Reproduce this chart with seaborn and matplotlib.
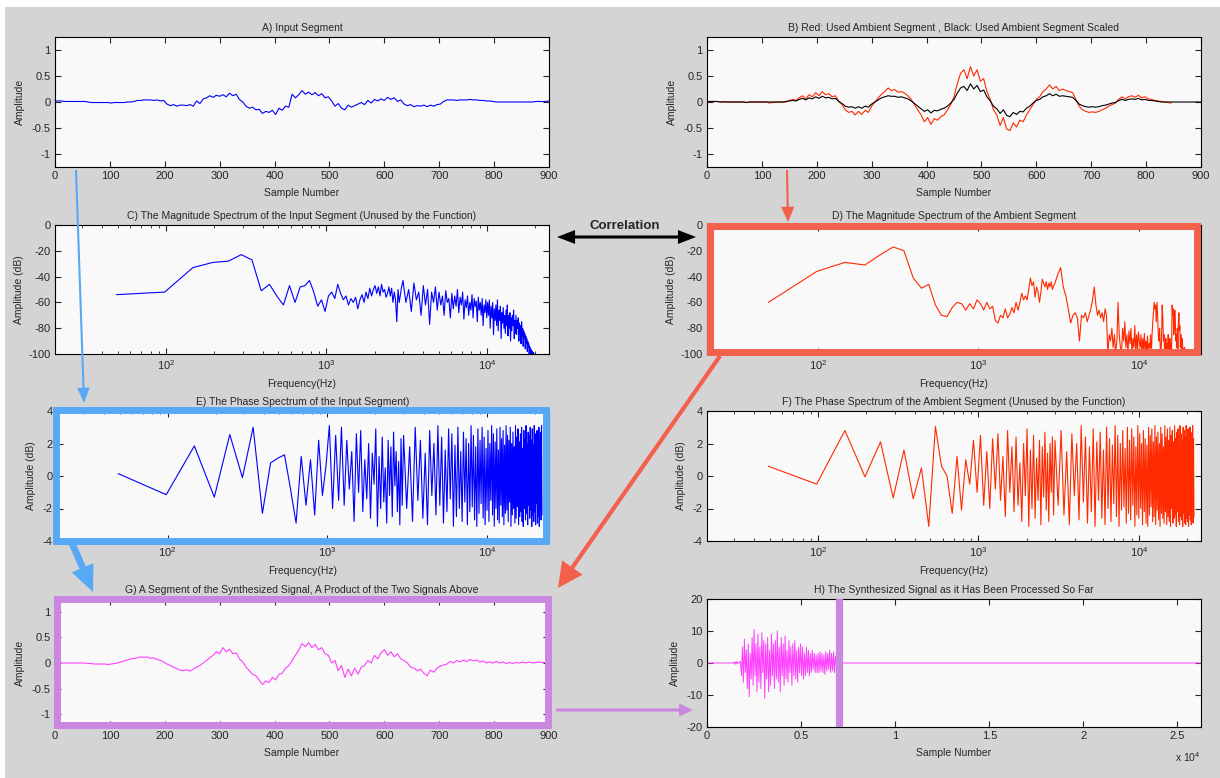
import numpy as np
import matplotlib
matplotlib.use("Agg")
import matplotlib.pyplot as plt
import seaborn as sns
from matplotlib.patches import Rectangle, FancyArrowPatch
from matplotlib.ticker import FuncFormatter, FixedLocator

# ---------------- data ----------------
FS = 44100
SEG_LEN = 900

# A) input segment (every ~6 samples, 0..900)
input_seg = [0.02,0.02,0.02,0.01,0.01,0.01,0.01,0.01,0.01,0.01,0.00,-0.01,-0.01,-0.01,-0.01,-0.01,-0.01,-0.02,-0.01,-0.01,-0.01,-0.01,0.00,0.00,
             0.01,0.03,0.03,0.04,0.04,0.04,0.03,0.04,0.02,0.03,
             -0.04,-0.07,-0.05,-0.08,-0.06,-0.06,-0.07,-0.05,-0.08,
             0.02,-0.03,0.06,0.08,0.12,0.09,0.13,0.11,0.14,0.10,0.17,0.12,0.15,
             0.05,0.00,-0.08,-0.12,-0.10,-0.15,-0.14,-0.22,-0.18,-0.20,-0.16,-0.24,
             -0.12,-0.16,-0.08,-0.10,0.15,0.08,
             0.14,0.22,0.15,0.19,0.14,0.18,0.12,0.16,0.08,0.10,
             0.02,-0.08,-0.03,-0.12,-0.15,-0.06,-0.10,
             -0.07,-0.04,-0.01,-0.05,0.03,-0.02,0.05,0.02,0.06,0.03,0.09,0.05,0.08,0.01,0.04,
             -0.04,-0.07,-0.05,-0.09,-0.07,-0.08,-0.06,-0.09,-0.06,-0.08,-0.05,-0.04,
             0.01,0.04,0.04,0.04,0.03,0.04,0.04,0.04,0.05,0.04,0.04,0.03,0.03,
             0.02,0.02,0.01,0.00,0.00,0.00,0.00,0.00,0.00,0.00,0.00,0.00,0.00,0.00,0.00,0.01,0.01,0.01,0.01,0.02]

# B) ambient segment (red, 0..846) and scaled version (black, 0..900)
ambient_seg = [0.01,0.01,0.01,0.01,0.00,0.01,0.00,0.00,0.00,0.00,0.00,0.00,-0.01,0.00,0.00,0.00,0.00,0.00,0.00,-0.02,-0.01,0.00,0.00,0.00,0.00,
               0.03,0.05,0.03,0.08,0.12,0.06,0.14,0.10,0.18,0.12,0.20,0.14,0.16,0.10,0.12,
               0.02,-0.05,-0.15,-0.20,-0.18,-0.25,-0.18,-0.24,-0.16,-0.20,-0.08,
               0.00,0.08,0.15,0.20,0.27,0.22,0.24,0.19,0.20,0.17,0.12,
               0.05,-0.05,-0.15,-0.25,-0.38,-0.30,-0.43,-0.32,-0.35,-0.28,
               -0.25,-0.15,-0.05,0.10,0.35,0.55,
               0.62,0.45,0.68,0.50,0.62,0.40,0.45,0.20,
               0.05,-0.15,-0.25,-0.45,-0.30,-0.52,-0.55,-0.40,-0.48,-0.35,-0.38,
               -0.25,-0.15,-0.05,0.05,0.10,0.20,0.25,
               0.33,0.25,0.30,0.22,0.25,0.22,0.20,0.18,
               0.05,-0.08,-0.15,-0.18,-0.20,-0.19,-0.20,-0.18,-0.15,
               -0.12,-0.08,-0.05,-0.02,0.05,0.10,
               0.06,0.10,0.12,0.09,0.13,0.08,0.10,0.06,0.05,
               0.03,0.02,0.01,0.00,-0.01,-0.02]
ambient_scaled = [0.00,0.01,0.01,0.01,0.00,0.00,0.00,0.00,0.00,0.00,0.00,0.00,-0.01,0.00,0.00,0.00,0.00,0.00,0.00,0.00,0.00,0.00,0.00,0.00,0.01,
                  0.02,0.03,0.02,0.05,0.07,0.04,0.08,0.06,0.10,0.07,0.11,0.08,0.09,0.06,0.07,
                  0.01,-0.03,-0.08,-0.10,-0.09,-0.12,-0.09,-0.12,-0.08,-0.10,-0.04,
                  0.00,0.04,0.08,0.10,0.12,0.11,0.11,0.09,0.10,0.08,0.06,
                  0.02,-0.03,-0.08,-0.13,-0.18,-0.15,-0.21,-0.16,-0.17,-0.14,
                  -0.12,-0.08,-0.02,0.05,0.17,0.27,
                  0.30,0.22,0.35,0.25,0.32,0.20,0.23,0.10,
                  0.02,-0.08,-0.13,-0.22,-0.15,-0.26,-0.28,-0.20,-0.24,-0.18,-0.19,
                  -0.12,-0.08,-0.02,0.03,0.05,0.10,0.12,
                  0.16,0.12,0.15,0.11,0.12,0.11,0.10,0.09,
                  0.03,-0.04,-0.07,-0.09,-0.10,-0.09,-0.10,-0.09,-0.07,
                  -0.06,-0.04,-0.02,-0.01,0.03,0.05,
                  0.03,0.05,0.06,0.05,0.07,0.04,0.05,0.03,0.03,
                  0.02,0.01,0.00,0.00,0.00,0.00,
                  0.00,0.00,0.00,0.00,0.00,0.00,0.00,0.00,0.00]

# C) magnitude spectrum of input (dB): first 60 FFT bins, then the dense 3-22 kHz part
mag_input_low = [-54,-52,-33,-29,-28,-23,-27,-51,-46,-55,-62,-47,-60,-48,-47,-43,-52,-63,-58,-67,
                 -55,-52,-57,-46,-53,-58,-55,-62,-57,-60,-56,-65,-58,-54,-60,-52,-57,-49,-55,-50,
                 -47,-53,-48,-55,-46,-52,-50,-56,-53,-48,-55,-49,-60,-52,-58,-75,-50,-60,-54,-48]
mag_input_high = [-43,-60,-50,-67,-45,-58,-52,-70,-47,-62,-50,-77,-52,-60,-48,-66,
                  -52,-62,-55,-70,-51,-60,-57,-72,-53,-65,-55,-63,-50,-68,-56,-62,-52,-73,-58,-64,-55,-70,-60,-66,
                  -54,-72,-57,-63,-59,-75,-56,-66,-60,-70,-57,-78,-62,-68,-58,-72,
                  -60,-70,-58,-80,-63,-72,-60,-85,-65,-74,-62,-78,-58,-82,-66,-74,-63,-88,-68,-76,
                  -64,-80,-70,-84,-66,-78,-62,-86,-70,-80,-68,-90,-72,-82,-70,-78,-66,-88,-74,-84,
                  -70,-85,-74,-80,-72,-90,-76,-84,-78,-92,-75,-86,-80,-94,-82,-88,-84,-96,-86,-92,
                  -88,-98,-90,-95,-92,-100,-94,-99,-96,-100,-97,-100,-98,-101,-99,-102,-100,-104,-100,-105,
                  -101,-106,-102,-108,-103,-110,-104,-110,-105,-112,-106,-112,-108,-115,-110]

# D) magnitude spectrum of ambient (dB)
mag_amb_low = [-60,-36,-29,-31,-23,-17,-20,-41,-49,-46,-62,-70,-71,-64,-60,-61,-66,-61,-65,-58,
               -61,-66,-60,-65,-63,-74,-76,-70,-72,-65,-72,-69,-64,-68,-60,-66,-60,-53,-58,-55,
               -58,-50,-41,-47,-44,-56,-48,-52,-60,-52,-42,-45,-48,-44,-50,-45,-48,-44,-50,-47]
mag_amb_high = [-45,-38,-33,-48,-55,-65,-76,-70,
                -68,-72,-90,-70,-72,-68,-75,-70,
                -65,-58,-48,-62,-70,-66,-72,-68,
                -75,-65,-70,-100,-85,-90,-80,-95,
                -85,-100,-90,-60,-85,-95,-100,-80,
                -90,-75,-95,-85,-100,-82,-92,-80,
                -100,-88,-95,-78,-100,-85,-97,-83,
                -90,-95,-85,-100,-88,-96,-84,-100,
                -90,-98,-86,-100,-92,-95,-85,-100,
                -85,-75,-68,-60,-65,-62,-75,-60,
                -70,-85,-90,-80,-95,-100,-88,-62,
                -72,-90,-85,-100,-95,-88,-100,-92,
                -98,-85,-100,-95,-88,-100,-92,-97,
                -62,-70,-65,-85,-80,-66,-75,-90,
                -85,-95,-80,-100,-75,-68,-82,-78,
                -95,-85,-90,-100,-88,-95,-100,-96,
                -100,-95,-105,-98,-100,-110,-102,-108,
                -110,-105,-112,-108,-115,-110,-118,-112,-115,-120,-114,-118,-120,-116,-120,-120]

# E) phase spectrum of input
phase_input_low = [0.15,-1.15,1.85,-1.3,2.55,-0.1,3.0,-2.3,0.8,1.1,1.3,-0.8,-2.9,1.2,-1.8,1.0,-2.4,2.2,-1.2,0.6,
                   3.1,-2.0,2.5,-1.5,3.0,-1.8,2.2,-0.8,1.5,-2.8,2.6,-1.0,2.8,-2.2,1.0,-1.4,2.0,-2.6,1.4,-0.5,
                   2.9,-3.1,1.2,-2.0,2.4,-1.6,0.5,-2.9,2.2,-1.2,1.8,-2.5,2.7,-0.6,1.5,-2.2,0.9,-3.0,2.3,-1.8]
phase_input_high = [2.5,-2.0,1.8,-2.8,3.0,-1.5,2.2,-2.6,1.4,-3.0,2.8,-1.2,2.0,-2.4,3.1,-1.8,2.4,-2.9,1.6,-2.2,
                    2.9,-1.4,2.6,-3.1,1.9,-2.5,3.0,-2.0,1.5,-2.8,2.7,-1.6,2.3,-3.0,2.0,-2.2,3.1,-1.9,2.5,-2.7,
                    1.8,-3.1,2.9,-2.3,2.2,-1.7,3.0,-2.6,2.4,-3.0,1.7,-2.1,2.8,-2.8,2.0,-1.5,3.1,-2.4,2.6,-3.1,
                    2.1,-2.0,2.9,-2.7,1.6,-2.9,3.0,-1.8,2.3,-2.5,2.8,-3.0,1.9,-2.3,3.1,-2.1,2.5,-2.8,2.2,-1.6,
                    3.0,-3.1,2.0,-2.4,2.7,-2.0,1.8,-2.9,3.1,-2.6,2.4,-1.9,2.9,-3.0,2.1,-2.5,2.6,-2.2,3.0,-2.8,
                    1.7,-3.1,2.8,-2.0,2.3,-2.7,3.1,-2.3,2.0,-3.0,2.7,-1.8,2.5,-2.6,3.0,-2.1,2.2,-3.1,2.9,-2.4,
                    1.9,-2.8,3.1,-2.2,2.6,-3.0,2.4,-1.7,2.8,-2.9,2.1,-2.5,3.0,-3.1,2.3,-2.0,2.7,-2.7,3.1,-2.4]

# F) phase spectrum of ambient
phase_amb_low = [0.6,-0.5,2.8,-0.05,2.1,-1.35,1.6,-1.4,0.5,-3.1,3.05,0.6,0.0,-2.3,1.2,-2.1,1.0,-0.5,2.2,-1.0,
                 2.5,-1.8,1.5,-2.0,2.3,-0.8,2.6,-1.5,1.2,-2.5,2.8,-1.0,1.8,-2.2,2.4,-1.8,0.8,-2.8,2.0,-1.2,
                 2.9,-3.1,1.6,-2.0,2.5,-2.6,1.1,-1.5,2.2,-3.0,1.8,-1.3,2.7,-2.1,1.4,-2.8,2.0,-1.0,2.4,-2.4]
phase_amb_high = [2.2,-1.8,2.8,-2.4,1.5,-3.0,2.6,-1.2,2.0,-2.7,3.1,-1.6,2.4,-2.9,1.8,-2.2,2.9,-3.1,2.1,-1.5,
                  2.7,-2.6,1.6,-3.0,3.0,-2.0,2.3,-2.8,1.9,-1.7,3.1,-2.5,2.5,-3.1,2.0,-2.1,2.8,-1.9,1.7,-2.9,
                  3.0,-2.3,2.2,-2.7,2.9,-1.8,2.4,-3.1,1.8,-2.4,3.1,-2.6,2.6,-2.0,2.0,-3.0,2.8,-2.2,2.3,-2.9,
                  1.9,-3.1,3.0,-2.4,2.5,-1.9,2.9,-2.8,2.1,-2.5,3.1,-3.0,2.4,-2.1,2.7,-2.7,2.0,-3.1,3.0,-2.3,
                  2.6,-2.6,1.8,-2.9,3.1,-2.2,2.4,-3.0,2.9,-2.5,2.2,-2.8,3.0,-3.1,2.5,-2.0,2.8,-2.9,2.1,-2.6,
                  3.1,-2.4,2.3,-3.1,2.7,-2.2,2.9,-2.8,2.0,-3.0,3.1,-2.5,2.6,-2.7,2.2,-3.1,3.0,-2.3,2.8,-2.9,
                  2.4,-3.0,3.1,-2.6,2.5,-2.8,2.9,-3.1,2.2,-2.4,3.0,-2.7,2.7,-3.0,2.6,-2.2,3.1,-2.9,2.3,-2.5]

# G) synthesized segment
synth_seg = [0,0,0,0,0,0,0,0,0,0,-0.01,-0.01,-0.02,-0.02,-0.02,-0.02,-0.03,
             -0.02,-0.01,0.0,0.02,0.04,0.06,0.08,0.09,0.10,0.12,0.11,0.12,0.09,0.10,
             0.07,0.05,0.02,-0.02,-0.05,-0.08,-0.11,-0.14,-0.15,-0.13,-0.16,
             -0.12,-0.08,-0.05,0.0,0.05,0.10,0.15,0.22,0.18,0.30,
             0.22,0.27,0.18,0.20,0.08,
             0.02,-0.08,-0.15,-0.22,-0.25,-0.33,-0.42,
             -0.35,-0.38,-0.28,-0.33,-0.22,-0.20,
             -0.10,-0.05,0.05,0.15,0.25,0.38,
             0.32,0.40,0.30,0.36,0.26,0.30,
             0.18,0.15,0.0,0.05,-0.15,-0.05,
             -0.28,-0.12,-0.25,-0.10,-0.22,-0.08,
             -0.05,0.05,0.0,0.15,0.08,0.20,0.26,
             0.15,0.22,0.12,0.18,0.08,0.05,
             0.0,-0.08,-0.10,-0.15,-0.12,-0.20,-0.25,-0.14,-0.18,
             -0.10,-0.06,-0.04,-0.02,0.03,0.0,
             0.05,0.02,0.06,0.03,0.07,0.04,0.06,0.02,0.04,0.0,0.02,0.0,0.03,0.0,0.02,-0.01,0.01,-0.01,0.01,0.0,
             0.02,0.0,0.02,0.0,0.01,0.02,0.01,0.01,0.0]

# H) synthesized signal so far
proc_pre_t = [0, 1400, 1450, 1500, 1550, 1600, 1650, 1700]
proc_pre_v = [0, 0, 0.3, -0.4, 0.5, -0.3, 0.2, 0]
proc_burst = [0.5,-4.0,5.0,-6.0,7.5,-3.0,4.0,-8.0,6.0,-10.5,3.0,-5.0,8.0,-7.0,10.5,-4.0,6.0,-9.0,9.0,-6.0,
              5.0,-8.0,9.5,-3.0,7.0,-11.0,6.0,-5.0,8.0,-9.0,4.0,-7.0,9.0,-4.0,6.0,-8.0,7.0,-5.0,10.0,-6.0,
              5.0,-9.0,8.0,-4.0,6.0,-7.0,8.5,-5.0,4.0,-6.0,7.0,-3.0,5.0,-7.0,6.0,-4.0,7.0,-5.0,4.0,-6.0,
              5.0,-3.0,6.0,-4.0,5.0,-5.0,3.0,-4.0,5.0,-3.0,4.0,-4.0,3.0,-3.0,4.0,-2.0,3.0,-3.0,2.5,-3.0,
              3.0,-3.0,3.5,-2.5,3.0,-3.0,2.5,-3.5,3.5,-2.5,3.0,-2.0,4.0,-3.0,3.0,-2.5,3.5,-3.0,2.0,-1.0]
proc_burst_span = [1780, 6880]
proc_post_t = [6950, 26250]
proc_post_v = [0, 0]
proc_cursor = 6990

# ---------------- figure ----------------
sns.set_style("ticks")
plt.rcParams['font.family'] = ['Liberation Sans', 'DejaVu Sans']
plt.rcParams['axes.unicode_minus'] = False
plt.rcParams['mathtext.fontset'] = 'custom'
plt.rcParams['mathtext.rm'] = 'Liberation Sans'

W, H = 1220, 778
fig = plt.figure(figsize=(12.2, 7.78), dpi=100, facecolor='white')

def fx(px):
    return px / W

def fy(py):
    return 1 - py / H

fig.add_artist(Rectangle((fx(5), 0), 1 - fx(5), fy(7), transform=fig.transFigure,
                         facecolor='#d4d4d4', edgecolor='none', zorder=-10))

BLUE = '#0000ff'
RED = '#ff2a00'
MAG = '#ff40ff'
C_BLUE = '#57a9f6'
C_RED = '#f3604c'
C_PUR = '#c987e0'

def add_ax(l, t, r, b):
    ax = fig.add_axes([fx(l), fy(b), (r - l) / W, (b - t) / H])
    ax.set_facecolor('#f9f9f9')
    return ax

def style(ax, title, xlabel, ylabel, ylp=5):
    ax.set_title(title, fontsize=7.5, pad=4)
    ax.set_xlabel(xlabel, fontsize=7.5, labelpad=5)
    ax.set_ylabel(ylabel, fontsize=7.5, labelpad=ylp)
    ax.tick_params(which='major', direction='in', top=True, right=True, labelsize=8,
                   length=4, width=0.8, pad=3)
    ax.tick_params(which='minor', direction='in', top=True, right=True, length=2, width=0.6)
    for s in ax.spines.values():
        s.set_visible(True)
        s.set_linewidth(0.8)
        s.set_color('black')

gfmt = FuncFormatter(lambda v, p: '%g' % v)

def time_axes(ax):
    ax.set_xlim(0, 900)
    ax.set_ylim(-1.25, 1.25)
    ax.xaxis.set_major_locator(FixedLocator(np.arange(0, 901, 100)))
    ax.yaxis.set_major_locator(FixedLocator([-1, -0.5, 0, 0.5, 1]))
    ax.xaxis.set_major_formatter(gfmt)
    ax.yaxis.set_major_formatter(gfmt)

def freq_axes(ax, ylim, yticks):
    ax.set_xscale('log')
    ax.set_xlim(20.3, 24400)
    ax.set_ylim(*ylim)
    ax.yaxis.set_major_locator(FixedLocator(yticks))
    ax.yaxis.set_major_formatter(gfmt)

def spectrum(low, high):
    f_low = np.arange(1, len(low) + 1) * FS / SEG_LEN
    f_high = np.linspace(3000, FS / 2, len(high))
    return np.concatenate([f_low, f_high]), np.concatenate([low, high])

def line(ax, x, y, color, lw=0.8):
    sns.lineplot(x=np.asarray(x, float), y=np.asarray(y, float), ax=ax, color=color,
                 linewidth=lw, estimator=None, sort=False, legend=False)

LX = (55, 549)
RX = (707, 1201)
ROWS = [(37, 167), (225, 354), (411, 541), (599, 727)]

# A
axA = add_ax(LX[0], ROWS[0][0], LX[1], ROWS[0][1])
line(axA, np.linspace(0, 900, len(input_seg)), input_seg, BLUE)
time_axes(axA)
style(axA, 'A) Input Segment', 'Sample Number', 'Amplitude')

# B
axB = add_ax(RX[0], ROWS[0][0], RX[1], ROWS[0][1])
line(axB, np.linspace(0, 846, len(ambient_seg)), ambient_seg, RED)
line(axB, np.linspace(0, 900, len(ambient_scaled)), ambient_scaled, 'black')
time_axes(axB)
style(axB, 'B) Red: Used Ambient Segment , Black: Used Ambient Segment Scaled',
      'Sample Number', 'Amplitude')

# C
axC = add_ax(LX[0], ROWS[1][0], LX[1], ROWS[1][1])
f, v = spectrum(mag_input_low, mag_input_high)
line(axC, f, v, BLUE)
freq_axes(axC, (-100, 0), [-100, -80, -60, -40, -20, 0])
style(axC, 'C) The Magnitude Spectrum of the Input Segment (Unused by the Function)',
      'Frequency(Hz)', 'Amplitude (dB)', ylp=3)

# D
axD = add_ax(RX[0], ROWS[1][0], RX[1], ROWS[1][1])
f, v = spectrum(mag_amb_low, mag_amb_high)
line(axD, f, v, RED)
freq_axes(axD, (-100, 0), [-100, -80, -60, -40, -20, 0])
style(axD, 'D) The Magnitude Spectrum of the Ambient Segment',
      'Frequency(Hz)', 'Amplitude (dB)', ylp=3)

# E
axE = add_ax(LX[0] + 2, ROWS[2][0], LX[1], ROWS[2][1])
f, v = spectrum(phase_input_low, phase_input_high)
line(axE, f, v, BLUE)
freq_axes(axE, (-4, 4), [-4, -2, 0, 2, 4])
style(axE, 'E) The Phase Spectrum of the Input Segment)', 'Frequency(Hz)', 'Amplitude (dB)')

# F
axF = add_ax(RX[0], ROWS[2][0], RX[1], ROWS[2][1])
f, v = spectrum(phase_amb_low, phase_amb_high)
line(axF, f, v, RED)
freq_axes(axF, (-4, 4), [-4, -2, 0, 2, 4])
style(axF, 'F) The Phase Spectrum of the Ambient Segment (Unused by the Function)',
      'Frequency(Hz)', 'Amplitude (dB)')

# G
axG = add_ax(LX[0], ROWS[3][0], LX[1], ROWS[3][1])
line(axG, np.linspace(0, 900, len(synth_seg)), synth_seg, MAG)
time_axes(axG)
style(axG, 'G) A Segment of the Synthesized Signal, A Product of the Two Signals Above',
      'Sample Number', 'Amplitude')

# H
axH = add_ax(RX[0], ROWS[3][0], RX[1], ROWS[3][1])
ht = np.concatenate([proc_pre_t, np.linspace(proc_burst_span[0], proc_burst_span[1], len(proc_burst)), proc_post_t])
hv = np.concatenate([proc_pre_v, proc_burst, proc_post_v])
line(axH, ht, hv, MAG, lw=0.7)
axH.axvline(proc_cursor, color=C_PUR, lw=5.2, zorder=3)
axH.set_xlim(0, 26250)
axH.set_ylim(-20, 20)
axH.xaxis.set_major_locator(FixedLocator(np.arange(0, 25001, 5000)))
axH.xaxis.set_major_formatter(FuncFormatter(lambda v, p: '%g' % (v / 1e4)))
axH.yaxis.set_major_locator(FixedLocator([-20, -10, 0, 10, 20]))
axH.yaxis.set_major_formatter(gfmt)
style(axH, 'H) The Synthesized Signal as it Has Been Processed So Far', 'Sample Number', 'Amplitude')
axH.text(1.0, -0.235, r'x 10$^{4}$', transform=axH.transAxes, ha='right', va='center', fontsize=7.5)

# ---------------- highlight boxes ----------------
def box(l, t, r, b, color):
    fig.add_artist(Rectangle((fx(l), fy(b)), (r - l) / W, (b - t) / H, transform=fig.transFigure,
                             fill=False, edgecolor=color, linewidth=5, zorder=5,
                             joinstyle='miter'))

box(710, 226, 1197, 352, C_RED)
box(56, 410, 546, 541, C_BLUE)
box(57.5, 598.5, 547.5, 725, C_PUR)

# ---------------- arrows ----------------
def arrow(p0, p1, color, tail, hw, hl):
    a = FancyArrowPatch((fx(p0[0]), fy(p0[1])), (fx(p1[0]), fy(p1[1])),
                        transform=fig.transFigure,
                        arrowstyle=f'simple,head_length={hl},head_width={hw},tail_width={tail}',
                        mutation_scale=1, color=color, linewidth=0, shrinkA=0, shrinkB=0, zorder=6)
    fig.add_artist(a)

arrow((76, 170), (84, 403), C_BLUE, 1.5, 9, 11)
arrow((787, 170), (788, 222), C_RED, 1.5, 9.5, 11)
arrow((72, 543), (93, 592), C_BLUE, 5, 17, 19)
arrow((720, 356), (558, 588), C_RED, 3, 18, 18)
arrow((556, 710), (693, 710), C_PUR, 2.2, 9.5, 10)
arrow((626, 237), (557, 237), 'black', 2.2, 10, 13)
arrow((626, 237), (696, 237), 'black', 2.2, 10, 13)
fig.text(fx(625), fy(226), 'Correlation', ha='center', va='center', fontsize=9.5,
         fontweight='bold')

fig.savefig('out.png', dpi=100, facecolor=fig.get_facecolor())
